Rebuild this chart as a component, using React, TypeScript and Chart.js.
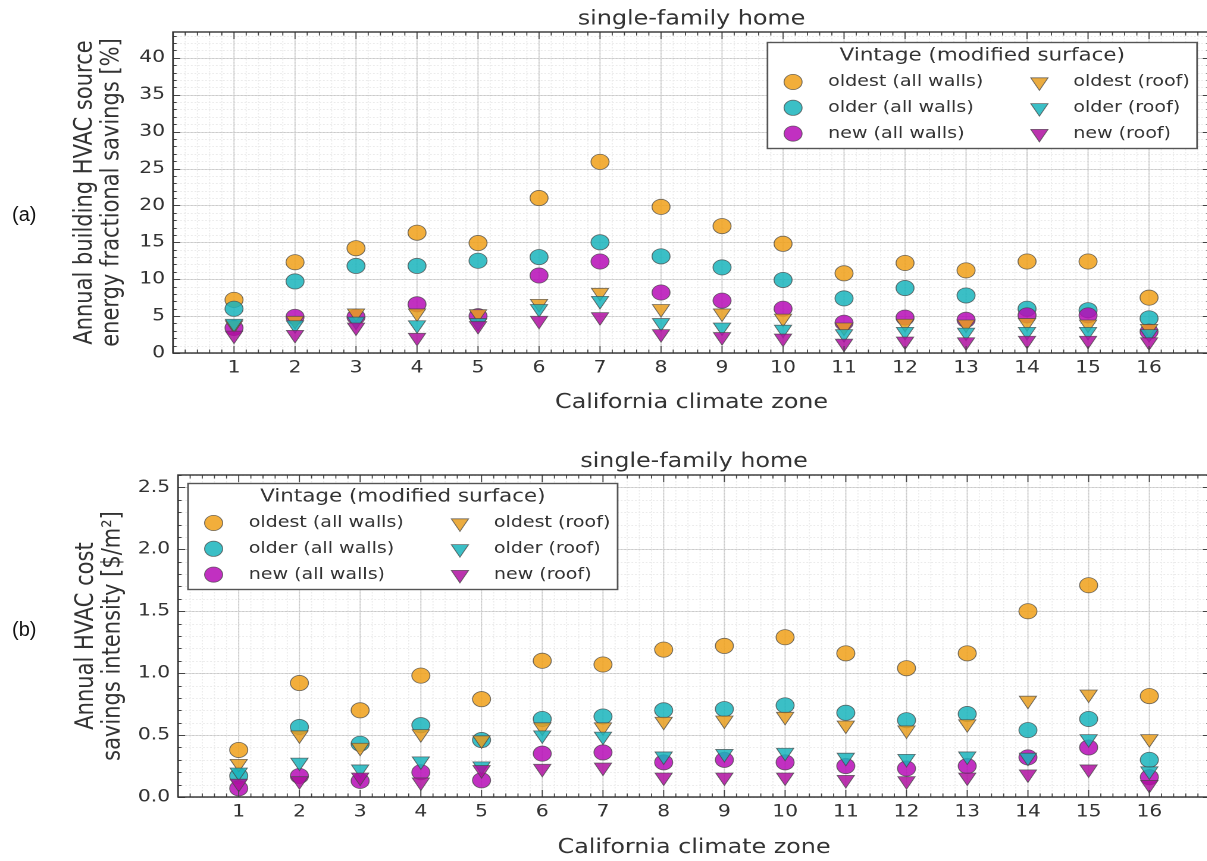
import { useEffect, useRef } from "react";
import { Chart, registerables, Plugin } from "chart.js";

Chart.register(...registerables);

const FONT = "DejaVu Sans";
// the source figure is stretched horizontally; draw narrower and widen the canvas
const STRETCH = 1.19;

const zones = [1, 2, 3, 4, 5, 6, 7, 8, 9, 10, 11, 12, 13, 14, 15, 16];

const seriesLabels = [
  "oldest (all walls)",
  "older (all walls)",
  "new (all walls)",
  "oldest (roof)",
  "older (roof)",
  "new (roof)",
];

// (a) annual building HVAC source energy fractional savings [%]
const energyOldestWalls = [7.2, 12.3, 14.2, 16.3, 14.9, 21.0, 25.9, 19.8, 17.2, 14.8, 10.8, 12.2, 11.2, 12.4, 12.4, 7.5];
const energyOlderWalls = [6.0, 9.7, 11.8, 11.8, 12.5, 13.0, 15.0, 13.1, 11.6, 9.9, 7.4, 8.8, 7.8, 6.0, 5.8, 4.7];
const energyNewWalls = [3.4, 4.9, 4.9, 6.6, 5.0, 10.5, 12.4, 8.2, 7.1, 6.0, 4.1, 4.8, 4.5, 5.1, 5.1, 2.9];
const energyOldestRoof = [3.8, 4.4, 5.4, 5.4, 5.3, 6.7, 8.2, 6.0, 5.4, 4.7, 3.5, 4.0, 3.9, 4.1, 3.9, 3.3];
const energyOlderRoof = [4.0, 3.8, 4.3, 3.8, 4.1, 6.0, 7.1, 4.1, 3.5, 3.2, 2.6, 2.9, 2.8, 2.9, 2.9, 2.6];
const energyNewRoof = [2.4, 2.5, 3.5, 2.1, 3.7, 4.4, 4.9, 2.6, 2.2, 2.0, 1.3, 1.6, 1.5, 1.7, 1.7, 1.5];

// (b) annual HVAC cost savings intensity [$/m²]
const costOldestWalls = [0.38, 0.92, 0.7, 0.98, 0.79, 1.1, 1.07, 1.19, 1.22, 1.29, 1.16, 1.04, 1.16, 1.5, 1.71, 0.815];
const costOlderWalls = [0.17, 0.565, 0.43, 0.58, 0.46, 0.63, 0.65, 0.7, 0.71, 0.74, 0.68, 0.62, 0.67, 0.54, 0.63, 0.3];
const costNewWalls = [0.07, 0.17, 0.13, 0.2, 0.135, 0.35, 0.36, 0.28, 0.3, 0.28, 0.25, 0.23, 0.25, 0.32, 0.4, 0.16];
const costOldestRoof = [0.27, 0.5, 0.4, 0.51, 0.46, 0.565, 0.565, 0.61, 0.62, 0.65, 0.58, 0.54, 0.59, 0.78, 0.83, 0.47];
const costOlderRoof = [0.2, 0.28, 0.225, 0.29, 0.25, 0.5, 0.49, 0.33, 0.35, 0.36, 0.32, 0.31, 0.33, 0.32, 0.47, 0.21];
const costNewRoof = [0.11, 0.13, 0.16, 0.12, 0.22, 0.23, 0.24, 0.16, 0.16, 0.16, 0.14, 0.13, 0.16, 0.185, 0.225, 0.1];

const seriesColors = [
  "rgba(240,160,25,0.85)",
  "rgba(25,180,188,0.85)",
  "rgba(182,12,182,0.85)",
  "rgba(232,158,30,0.85)",
  "rgba(25,180,188,0.85)",
  "rgba(175,15,160,0.85)",
];
const seriesIsRoof = [false, false, false, true, true, true];
const CIRCLE_R = 7.6;
const TRI_R = 8.4;
const EDGE = "rgba(70,70,70,0.75)";

function drawMarker(ctx: CanvasRenderingContext2D, x: number, y: number, i: number) {
  ctx.beginPath();
  if (seriesIsRoof[i]) {
    const r = TRI_R;
    ctx.moveTo(x, y + r);
    ctx.lineTo(x - 0.866 * r, y - 0.5 * r);
    ctx.lineTo(x + 0.866 * r, y - 0.5 * r);
    ctx.closePath();
  } else {
    ctx.arc(x, y, CIRCLE_R, 0, Math.PI * 2);
  }
  ctx.fillStyle = seriesColors[i];
  ctx.fill();
  ctx.lineWidth = 0.8;
  ctx.strokeStyle = EDGE;
  ctx.stroke();
}

interface FrameOpts {
  xMinor: number;
  yMajor: number;
  yMinor: number;
  legendSide: "left" | "right";
  legendDx: number;
  legendDy: number;
}

function framePlugin(o: FrameOpts): Plugin<"scatter"> {
  const steps = (min: number, max: number, step: number) => {
    const out: number[] = [];
    for (let i = 0; min + i * step <= max + 1e-9; i++) out.push(min + i * step);
    return out;
  };
  return {
    id: "frame",
    beforeDatasetsDraw(chart) {
      const { ctx, chartArea: a } = chart;
      const x = chart.scales.x;
      const y = chart.scales.y;
      ctx.save();
      ctx.lineWidth = 1;
      // minor grid
      ctx.strokeStyle = "rgba(0,0,0,0.08)";
      ctx.setLineDash([1.5, 1.5]);
      ctx.beginPath();
      for (const v of steps(x.min, x.max, o.xMinor)) {
        const px = x.getPixelForValue(v);
        ctx.moveTo(px, a.top);
        ctx.lineTo(px, a.bottom);
      }
      for (const v of steps(y.min, y.max, o.yMinor)) {
        const py = Math.round(y.getPixelForValue(v)) + 0.5;
        ctx.moveTo(a.left, py);
        ctx.lineTo(a.right, py);
      }
      ctx.stroke();
      // major grid
      ctx.setLineDash([]);
      ctx.strokeStyle = "rgba(0,0,0,0.14)";
      ctx.beginPath();
      for (const v of steps(x.min, x.max, 1)) {
        const px = x.getPixelForValue(v);
        ctx.moveTo(px, a.top);
        ctx.lineTo(px, a.bottom);
      }
      for (const v of steps(y.min, y.max, o.yMajor)) {
        const py = Math.round(y.getPixelForValue(v)) + 0.5;
        ctx.moveTo(a.left, py);
        ctx.lineTo(a.right, py);
      }
      ctx.stroke();
      ctx.restore();
    },
    afterDatasetsDraw(chart) {
      const { ctx, chartArea: a } = chart;
      const x = chart.scales.x;
      const y = chart.scales.y;
      ctx.save();
      // inward ticks on all four sides
      ctx.strokeStyle = "#444";
      ctx.lineWidth = 0.9;
      ctx.beginPath();
      for (const v of steps(x.min, x.max, o.xMinor)) {
        const px = x.getPixelForValue(v);
        const major = Math.abs(v - Math.round(v)) < 1e-6;
        const len = major ? 7 : 3.5;
        ctx.moveTo(px, a.bottom);
        ctx.lineTo(px, a.bottom - len);
        ctx.moveTo(px, a.top);
        ctx.lineTo(px, a.top + len);
      }
      for (const v of steps(y.min, y.max, o.yMinor)) {
        const py = Math.round(y.getPixelForValue(v)) + 0.5;
        const r = v / o.yMajor;
        const major = Math.abs(r - Math.round(r)) < 1e-6;
        const len = major ? 6 : 3;
        ctx.moveTo(a.left, py);
        ctx.lineTo(a.left + len, py);
        ctx.moveTo(a.right, py);
        ctx.lineTo(a.right - len, py);
      }
      ctx.stroke();
      // axes box
      ctx.strokeStyle = "#333";
      ctx.lineWidth = 1.4;
      ctx.strokeRect(a.left, a.top, a.width, a.height);

      // legend
      const w = 361;
      const h = 106;
      const left = o.legendSide === "right" ? a.right - o.legendDx - w : a.left + o.legendDx;
      const top = a.top + o.legendDy;
      ctx.fillStyle = "#fff";
      ctx.fillRect(left, top, w, h);
      ctx.strokeStyle = "#555";
      ctx.lineWidth = 1.4;
      ctx.strokeRect(left, top + 0.5, w, h);
      ctx.fillStyle = "#333";
      ctx.textBaseline = "middle";
      ctx.textAlign = "center";
      ctx.font = `18px "${FONT}"`;
      ctx.fillText("Vintage (modified surface)", left + w / 2, top + 14);
      ctx.textAlign = "left";
      ctx.font = `16px "${FONT}"`;
      seriesLabels.forEach((label, i) => {
        const col = Math.floor(i / 3);
        const row = i % 3;
        const cy = top + 40 + row * 25.8;
        drawMarker(ctx, left + (col ? 228.5 : 21.5), cy, i);
        ctx.fillStyle = "#333";
        ctx.fillText(label, left + (col ? 257 : 51), cy);
      });
      ctx.restore();
    },
  };
}

interface SavingsChartProps {
  series: number[][];
  yTitle: string[];
  yMax: number;
  yStep: number;
  yMinor: number;
  decimals: number;
  width: number;
  height: number;
  yAxisWidth: number;
  xAxisHeight: number;
  titlePad: { top: number; bottom: number };
  xTitlePad: number;
  yTitlePad: number;
  padRight: number;
  legendSide: "left" | "right";
  legendDx: number;
  legendDy: number;
}

function SavingsChart(p: SavingsChartProps) {
  const canvasRef = useRef<HTMLCanvasElement>(null);
  const chartRef = useRef<Chart<"scatter"> | null>(null);

  useEffect(() => {
    if (!canvasRef.current) return;
    if (chartRef.current) {
      chartRef.current.destroy();
      chartRef.current = null;
    }

    const datasets = p.series.map((vals, i) => ({
      label: seriesLabels[i],
      data: vals.map((v, k) => ({ x: zones[k], y: v })),
      backgroundColor: seriesColors[i],
      borderColor: EDGE,
      borderWidth: 0.8,
      pointStyle: seriesIsRoof[i] ? ("triangle" as const) : ("circle" as const),
      pointRadius: seriesIsRoof[i] ? TRI_R : CIRCLE_R,
      pointRotation: seriesIsRoof[i] ? 180 : 0,
      // later series drawn on top, as in the source figure
      order: p.series.length - 1 - i,
    }));

    chartRef.current = new Chart(canvasRef.current, {
      type: "scatter",
      data: { datasets },
      options: {
        responsive: false,
        animation: false,
        devicePixelRatio: 2,
        layout: { padding: { left: 0, right: p.padRight, top: 0, bottom: 0 } },
        plugins: {
          legend: { display: false },
          tooltip: { enabled: false },
          title: {
            display: true,
            fullSize: false,
            text: "single-family home",
            color: "#333",
            font: { family: FONT, size: 20, weight: "normal", lineHeight: 1.2 },
            padding: p.titlePad,
          },
        },
        scales: {
          x: {
            type: "linear",
            min: 0,
            max: 17,
            grid: { display: false, drawTicks: false },
            border: { display: false },
            ticks: {
              stepSize: 1,
              autoSkip: false,
              includeBounds: false,
              maxRotation: 0,
              padding: 5,
              color: "#333",
              font: { family: FONT, size: 17 },
              callback: (v) => (Number(v) >= 1 && Number(v) <= 16 ? String(v) : ""),
            },
            title: {
              display: true,
              text: "California climate zone",
              color: "#333",
              font: { family: FONT, size: 20, lineHeight: 1.2 },
              padding: { top: 0, bottom: p.xTitlePad },
            },
            afterFit: (s) => {
              s.height = p.xAxisHeight;
              s.paddingLeft = 0;
              s.paddingRight = 0;
            },
          },
          y: {
            type: "linear",
            min: 0,
            max: p.yMax,
            grid: { display: false, drawTicks: false },
            border: { display: false },
            ticks: {
              stepSize: p.yStep,
              includeBounds: false,
              padding: 6.7,
              color: "#333",
              font: { family: FONT, size: 17 },
              callback: (v) => Number(v).toFixed(p.decimals),
            },
            title: {
              display: true,
              text: p.yTitle,
              color: "#333",
              font: { family: FONT, size: 21, lineHeight: 1.08 },
              padding: { top: p.yTitlePad, bottom: 0 },
            },
            afterFit: (s) => {
              s.width = p.yAxisWidth;
              s.paddingTop = 0;
              s.paddingBottom = 0;
            },
          },
        },
      },
      plugins: [
        framePlugin({
          xMinor: 0.2,
          yMajor: p.yStep,
          yMinor: p.yMinor,
          legendSide: p.legendSide,
          legendDx: p.legendDx,
          legendDy: p.legendDy,
        }),
      ],
    });

    return () => {
      if (chartRef.current) {
        chartRef.current.destroy();
        chartRef.current = null;
      }
    };
  }, []);

  return (
    <canvas
      ref={canvasRef}
      width={p.width}
      height={p.height}
      style={{ display: "block", width: p.width * STRETCH, height: p.height }}
    ></canvas>
  );
}

export default function App() {
  const panelLabel: React.CSSProperties = {
    position: "absolute",
    left: 12,
    fontFamily: "Liberation Sans",
    fontSize: 20,
    color: "#111",
  };
  return (
    <div
      style={{
        position: "absolute",
        left: 0,
        top: 0,
        width: 1207,
        height: 861,
        overflow: "hidden",
        background: "#fff",
      }}
    >
      <SavingsChart
        series={[energyOldestWalls, energyOlderWalls, energyNewWalls, energyOldestRoof, energyOlderRoof, energyNewRoof]}
        yTitle={["Annual building HVAC source", "energy fractional savings [%]"]}
        yMax={43.5}
        yStep={5}
        yMinor={1}
        decimals={0}
        width={1026}
        height={430}
        yAxisWidth={173 / STRETCH}
        xAxisHeight={77}
        titlePad={{ top: 7.5, bottom: 0.5 }}
        xTitlePad={15}
        yTitlePad={60}
        padRight={2.4}
        legendSide="right"
        legendDx={10.9}
        legendDy={10}
      />
      <SavingsChart
        series={[costOldestWalls, costOlderWalls, costNewWalls, costOldestRoof, costOlderRoof, costNewRoof]}
        yTitle={["Annual HVAC cost", "savings intensity [$/m²]"]}
        yMax={2.6}
        yStep={0.5}
        yMinor={0.1}
        decimals={1}
        width={1026}
        height={431}
        yAxisWidth={178 / STRETCH}
        xAxisHeight={64}
        titlePad={{ top: 20, bottom: 1 }}
        xTitlePad={1}
        yTitlePad={61}
        padRight={7.2}
        legendSide="left"
        legendDx={8.4}
        legendDy={8}
      />
      <div style={{ ...panelLabel, top: 203 }}>(a)</div>
      <div style={{ ...panelLabel, top: 618 }}>(b)</div>
    </div>
  );
}
